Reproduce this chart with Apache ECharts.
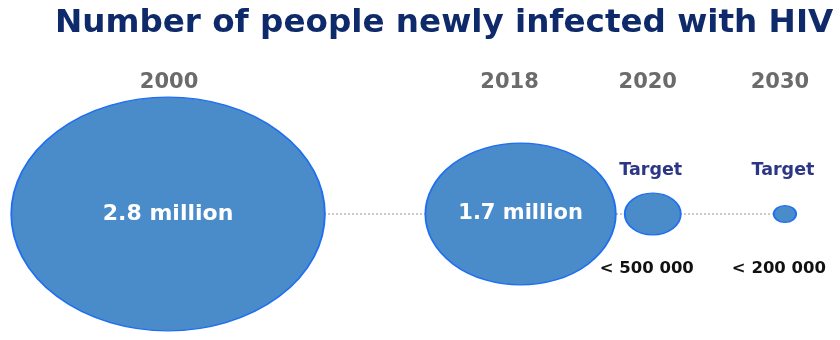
<!DOCTYPE html>
<html>
<head>
<meta charset="utf-8">
<script src="https://cdn.jsdelivr.net/npm/echarts@6/dist/echarts.min.js"></script>
<style>
html,body{margin:0;padding:0;background:#fff;}
#chart{width:840px;height:340px;}
</style>
</head>
<body>
<div id="chart"></div>
<script>
// ---- data ----
const titleText = 'Number of people newly infected with HIV';
const years = ['2000', '2018', '2020', '2030'];
const newInfectionsMillions = [2.8, 1.7, 0.5, 0.2];
const valueLabels = ['2.8 million', '1.7 million', '< 500 000', '< 200 000'];
const isTarget = [false, false, true, true];
const targetLabel = 'Target';

// ---- layout (not data) ----
const slots = [0, 8, 11, 14];           // horizontal slot of each year on the timeline
const yearShift = [1, -11, -5, -5];     // small horizontal nudges of the year captions
const widthPerMillion = 112;            // bubble width per million
const aspect = 0.745;                   // bubble height / width
const FONT = 'DejaVu Sans';

const chart = echarts.init(document.getElementById('chart'), null, {renderer: 'canvas'});

const bubbleData = years.map((y, i) => {
  const item = {value: [slots[i], 0, newInfectionsMillions[i]]};
  item.label = isTarget[i] ? {
    show: true, position: 'inside', offset: [-2, -44],
    formatter: targetLabel,
    color: '#2b3685', fontSize: 17.5, fontWeight: 'bold', fontFamily: FONT
  } : {
    show: true, position: 'inside', offset: [0, 0],
    formatter: valueLabels[i],
    color: '#ffffff', fontSize: i === 0 ? 22 : 21, fontWeight: 'bold', fontFamily: FONT
  };
  return item;
});

const yearData = years.map((y, i) => ({
  value: [slots[i], 0],
  label: {
    show: true, position: 'inside', offset: [yearShift[i], -131],
    formatter: y,
    color: '#6b6b6b', fontSize: 21, fontWeight: 'bold', fontFamily: FONT
  }
}));

const belowData = years.map((y, i) => ({
  value: [slots[i], 0],
  label: isTarget[i] ? {
    show: true, position: 'inside', offset: [-6, 55],
    formatter: valueLabels[i],
    color: '#111111', fontSize: 16.5, fontWeight: 'bold', fontFamily: FONT
  } : {show: false}
}));

const option = {
  animation: false,
  backgroundColor: '#ffffff',
  title: {
    text: titleText,
    left: 50, top: 2,
    textStyle: {color: '#0f2a6a', fontSize: 32.6, fontWeight: 'bold', fontFamily: FONT}
  },
  grid: {left: 124, right: 11, top: 100, bottom: 12},
  xAxis: {
    type: 'value', min: -1, max: 15, interval: 1, show: false
  },
  yAxis: {
    type: 'value', min: -1, max: 1, show: false
  },
  series: [
    {
      type: 'line',
      data: years.map((y, i) => [slots[i], 0]),
      symbol: 'none',
      z: 1,
      lineStyle: {color: '#b8b8b8', width: 1.5, type: [2, 2]},
      silent: true
    },
    {
      type: 'scatter',
      data: bubbleData,
      z: 3,
      symbol: 'circle',
      symbolSize: (val) => [val[2] * widthPerMillion, val[2] * widthPerMillion * aspect],
      itemStyle: {color: '#4a8bc9', borderColor: '#1f6ff2', borderWidth: 1.6, opacity: 1}
    },
    {
      type: 'scatter', data: yearData, z: 4, symbolSize: 1, clip: false,
      itemStyle: {color: 'rgba(0,0,0,0)', opacity: 1}, silent: true
    },
    {
      type: 'scatter', data: belowData, z: 4, symbolSize: 1, clip: false,
      itemStyle: {color: 'rgba(0,0,0,0)', opacity: 1}, silent: true
    }
  ]
};
chart.setOption(option);
</script>
</body>
</html>
